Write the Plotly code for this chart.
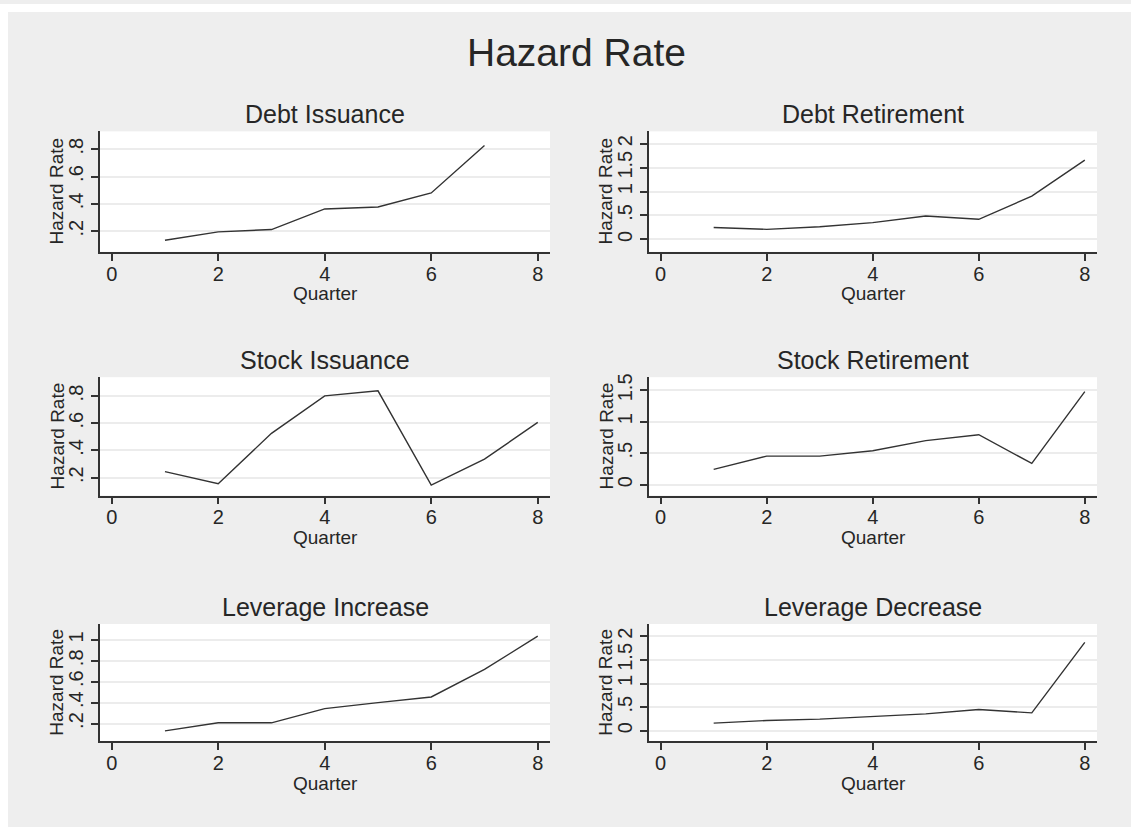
import plotly.graph_objects as go

# ---- data ----
quarters = [1, 2, 3, 4, 5, 6, 7, 8]
debt_issuance = [0.134, 0.195, 0.212, 0.363, 0.377, 0.48, 0.827]
debt_retirement = [0.25, 0.21, 0.265, 0.35, 0.49, 0.42, 0.905, 1.66]
stock_issuance = [0.244, 0.156, 0.526, 0.802, 0.839, 0.146, 0.336, 0.607]
stock_retirement = [0.243, 0.454, 0.454, 0.54, 0.70, 0.794, 0.338, 1.48]
leverage_increase = [0.13, 0.207, 0.207, 0.343, 0.40, 0.454, 0.718, 1.035]
leverage_decrease = [0.162, 0.217, 0.246, 0.30, 0.358, 0.45, 0.38, 1.87]

panel_titles = ["Debt Issuance", "Debt Retirement", "Stock Issuance",
                "Stock Retirement", "Leverage Increase", "Leverage Decrease"]
series = [debt_issuance, debt_retirement, stock_issuance,
          stock_retirement, leverage_increase, leverage_decrease]

x_tickvals = [0, 2, 4, 6, 8]
x_ticktext = ["0", "2", "4", "6", "8"]
y_tickvals = [
    [0.2, 0.4, 0.6, 0.8],
    [0, 0.5, 1, 1.5, 2],
    [0.2, 0.4, 0.6, 0.8],
    [0, 0.5, 1, 1.5],
    [0.2, 0.4, 0.6, 0.8, 1],
    [0, 0.5, 1, 1.5, 2],
]
y_ticktext = [
    [".2", ".4", ".6", ".8"],
    ["0", ".5", "1", "1.5", "2"],
    [".2", ".4", ".6", ".8"],
    ["0", ".5", "1", "1.5"],
    [".2", ".4", ".6", ".8", "1"],
    ["0", ".5", "1", "1.5", "2"],
]
y_ranges = [
    [0.049, 0.931],
    [-0.26, 2.26],
    [0.068, 0.939],
    [-0.175, 1.71],
    [0.029, 1.152],
    [-0.225, 2.26],
]

# ---- layout geometry (pixels) ----
W, H = 1131, 827
col_px = [(100, 550), (649, 1097)]
row_px = [(128, 249), (375, 494), (623, 741)]

FONT = "Liberation Sans, Arial, sans-serif"
AX = "#333333"
LINE = "#333333"
GRID = "#ececec"
TXT = "#262626"
BG = "#eeeeee"

fig = go.Figure()
layout = dict(
    width=W, height=H,
    margin=dict(l=0, r=0, t=0, b=0),
    paper_bgcolor=BG,
    plot_bgcolor="white",
    showlegend=False,
    font=dict(family=FONT, color=TXT),
)
annotations = []
shapes = [
    dict(type="rect", xref="paper", yref="paper",
         x0=0, x1=1, y0=1 - 8 / H, y1=1,
         fillcolor="white", line=dict(width=0), layer="below"),
    dict(type="rect", xref="paper", yref="paper",
         x0=0, x1=8 / W, y0=0, y1=1,
         fillcolor="white", line=dict(width=0), layer="below"),
]

for i, (title, ys) in enumerate(zip(panel_titles, series)):
    r, c = divmod(i, 2)
    x0, x1 = col_px[c]
    y0, y1 = row_px[r]
    n = "" if i == 0 else str(i + 1)
    fig.add_trace(go.Scatter(
        x=quarters[:len(ys)], y=ys, mode="lines",
        line=dict(color=LINE, width=1.4),
        xaxis="x" + n, yaxis="y" + n, hoverinfo="skip"))
    layout["xaxis" + n] = dict(
        domain=[x0 / W, x1 / W], anchor="y" + n, range=[-0.22, 8.23],
        tickvals=x_tickvals, ticktext=x_ticktext,
        ticks="outside", ticklen=7, tickwidth=1.5, tickcolor=AX,
        ticklabelstandoff=-4,
        showline=True, linecolor=AX, linewidth=1.5,
        showgrid=False, zeroline=False,
        tickfont=dict(size=20, family=FONT, color=TXT))
    layout["yaxis" + n] = dict(
        domain=[1 - y1 / H, 1 - y0 / H], anchor="x" + n, range=y_ranges[i],
        tickvals=y_tickvals[i], ticktext=y_ticktext[i], tickangle=-90,
        ticks="outside", ticklen=7, tickwidth=1.5, tickcolor=AX,
        showline=True, linecolor=AX, linewidth=1.5,
        showgrid=True, gridcolor=GRID, gridwidth=1.5, zeroline=False,
        tickfont=dict(size=20, family=FONT, color=TXT))
    # panel title
    annotations.append(dict(
        text=title, xref="paper", yref="paper",
        x=(x0 + x1) / 2 / W, y=1 - (y0 - 17) / H,
        xanchor="center", yanchor="middle", showarrow=False,
        font=dict(size=25, family=FONT, color=TXT)))
    # x axis title
    annotations.append(dict(
        text="Quarter", xref="paper", yref="paper",
        x=(x0 + x1) / 2 / W, y=1 - (y1 + 42) / H,
        xanchor="center", yanchor="middle", showarrow=False,
        font=dict(size=19, family=FONT, color=TXT)))
    # y axis title
    annotations.append(dict(
        text="Hazard Rate", xref="paper", yref="paper",
        x=(x0 - 43) / W, y=1 - (y0 + y1) / 2 / H, textangle=-90,
        xanchor="center", yanchor="middle", showarrow=False,
        font=dict(size=19, family=FONT, color=TXT)))

annotations.append(dict(
    text="Hazard Rate", xref="paper", yref="paper",
    x=576 / W, y=1 - 49 / H, xanchor="center", yanchor="middle",
    showarrow=False, font=dict(size=39, family=FONT, color=TXT)))

layout["annotations"] = annotations
layout["shapes"] = shapes
fig.update_layout(**layout)
fig.write_html("out.html",
               config={"displayModeBar": False},
               post_script="document.body.style.margin='0px';"
                           "document.body.style.overflow='hidden';")
